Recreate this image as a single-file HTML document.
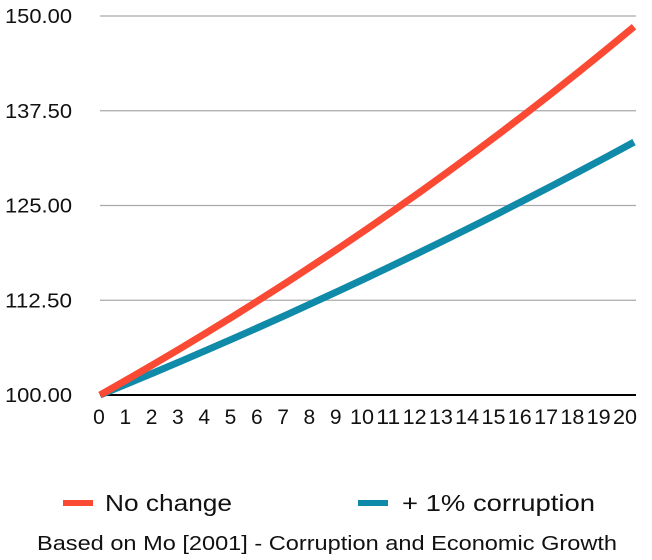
<!DOCTYPE html>
<html><head><meta charset="utf-8"><style>
body{margin:0;background:#fff;font-family:"Liberation Sans",sans-serif;}
</style></head><body>
<svg width="652" height="555" xmlns="http://www.w3.org/2000/svg" id="svg" font-family="Liberation Sans, sans-serif">
<g id="grid"></g>
<g id="ylab"></g>
<g id="xlab"></g>
<g id="lines"></g>
<g>
<g>
<line x1="63" y1="503" x2="93" y2="503" stroke="#fb4a34" stroke-width="6"/>
<text x="105" y="511" font-size="23" fill="#111" textLength="127" lengthAdjust="spacingAndGlyphs">No change</text></g>
<g>
<line x1="358" y1="503" x2="388" y2="503" stroke="#0f8aa8" stroke-width="6"/>
<text x="402" y="511" font-size="23" fill="#111" textLength="193" lengthAdjust="spacingAndGlyphs">+ 1% corruption</text></g>
</g>
<text x="37" y="550" font-size="20" fill="#111" textLength="580" lengthAdjust="spacingAndGlyphs">Based on Mo [2001] - Corruption and Economic Growth</text>
</svg>
<script>
const categories=[0,1,2,3,4,5,6,7,8,9,10,11,12,13,14,15,16,17,18,19,20];
const noChange=[100,102,104.04,106.12,108.24,110.41,112.62,114.87,117.17,119.51,121.9,124.34,126.82,129.36,131.95,134.59,137.28,140.02,142.82,145.68,148.59];
const corruption=[100,101.45,102.92,104.41,105.93,107.46,109.02,110.6,112.21,113.83,115.48,117.16,118.86,120.58,122.33,124.1,125.9,127.73,129.58,131.46,133.36];
const yTicks=[100,112.5,125,137.5,150];
const yTickLabels=["100.00","112.50","125.00","137.50","150.00"];
const NS="http://www.w3.org/2000/svg";
const x=i=>100+i*(534/20);
const xl=i=>99+i*26.3;
const y=v=>395-(v-100)*(379/50);
function mk(t,a,p){const e=document.createElementNS(NS,t);for(const k in a)e.setAttribute(k,a[k]);p.appendChild(e);return e;}
const grid=document.getElementById('grid'),yl=document.getElementById('ylab'),xlg=document.getElementById('xlab'),lg=document.getElementById('lines');
yTicks.forEach((v,i)=>{
 const l=mk('line',{x1:100,x2:636,y1:y(v),y2:y(v),stroke:i==0?'#000':'#aaa','stroke-width':i==0?2:1.2},grid);
 
 
 const t=mk('text',{x:72,y:y(v)+7,'font-size':20,'text-anchor':'end',fill:'#111',textLength:67,lengthAdjust:'spacingAndGlyphs'},yl);
 t.textContent=yTickLabels[i];
 
 
});
categories.forEach((c,i)=>{
 const t=mk('text',{x:xl(i),y:424,'font-size':21,'text-anchor':'middle',fill:'#111'},xlg);
 if(c>=10){t.setAttribute('textLength',24);t.setAttribute('lengthAdjust','spacingAndGlyphs');}
 t.textContent=String(c);
 
 
});
function line(vals,col,name){
 const d=vals.map((v,i)=>(i?'L':'M')+x(i)+' '+y(v)).join(' ');
 const p=mk('path',{d:d,fill:'none',stroke:col,'stroke-width':7,'stroke-linejoin':'round'},lg);
 
 
}
line(corruption,'#0f8aa8','corruption-line');
line(noChange,'#fb4a34','no-change-line');
</script>
</body></html>
